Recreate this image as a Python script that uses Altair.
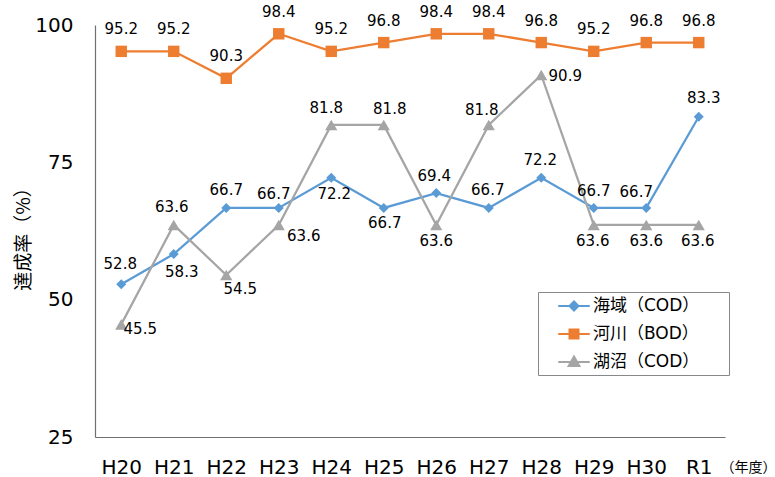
import altair as alt
import pandas as pd

# ---- data ----
years = ["H20", "H21", "H22", "H23", "H24", "H25", "H26", "H27", "H28", "H29", "H30", "R1"]
series_names = ["海域（COD）", "河川（BOD）", "湖沼（COD）"]
sea = [52.8, 58.3, 66.7, 66.7, 72.2, 66.7, 69.4, 66.7, 72.2, 66.7, 66.7, 83.3]
river = [95.2, 95.2, 90.3, 98.4, 95.2, 96.8, 98.4, 98.4, 96.8, 95.2, 96.8, 96.8]
lake = [45.5, 63.6, 54.5, 63.6, 81.8, 81.8, 63.6, 81.8, 90.9, 63.6, 63.6, 63.6]
y_ticks = [25, 50, 75, 100]

# label offsets (pixels) for the value annotations
sea_dx = [-1, 8, 0, -5, 3, 1, -2, -1, -1, 0, -10, 5]
sea_dy = [-20, 18, -18, -14, 16, 15, -17, -18, -18, -17, -16, -19]
river_dx = [0] * 12
river_dy = [-22] * 12
lake_dx = [19, -2, 14, 25, -5, 6, 0, -7, 24, -1, 0, -1]
lake_dy = [5, -18, 14, 11, -17, -16, 16, -15, 1, 16, 16, 16]

colors = ["#5B9BD5", "#ED7D31", "#A5A5A5"]
shapes = ["diamond", "square", "triangle-up"]
sizes = [100, 130, 150]
# legend symbols: a short line with the marker in the middle
legend_paths = [
    "M-1.75,0H1.75M0,-0.5L0.5,0L0,0.5L-0.5,0Z",
    "M-1.75,0H1.75M-0.5,-0.5H0.5V0.5H-0.5Z",
    "M-1.75,0H1.75M0,-0.6L0.6,0.45H-0.6Z",
]

rows = []
for name, vals, dxs, dys in zip(series_names, [sea, river, lake],
                                [sea_dx, river_dx, lake_dx], [sea_dy, river_dy, lake_dy]):
    for yr, v, dx, dy in zip(years, vals, dxs, dys):
        rows.append({"year": yr, "series": name, "value": v, "dx": dx, "dy": dy})
df = pd.DataFrame(rows)

LATIN = "DejaVu Sans, Noto Sans CJK JP"
CJK = "Noto Sans CJK JP"

x_enc = alt.X(
    "year:N", sort=years,
    scale=alt.Scale(type="point", padding=0.5),
    axis=alt.Axis(
        title="（年度）", titleX=625, titleY=30, titleAlign="left", titleBaseline="middle",
        titleFont=CJK, titleFontSize=14, titleFontWeight="normal", titleColor="black",
        labelFont=LATIN, labelFontSize=20, labelColor="black", labelPadding=20,
        labelAngle=0, ticks=False, tickSize=0, domainColor="#707070", domainWidth=1.2,
        grid=False,
    ),
)
y_enc = alt.Y(
    "value:Q",
    scale=alt.Scale(domain=[25, 100], nice=False, zero=False),
    axis=alt.Axis(
        values=y_ticks, title="達成率（%）", titleX=-72, titleY=209,
        titleAlign="center", titleBaseline="middle", titleAngle=-90,
        titleFont=CJK, titleFontSize=19, titleFontWeight="normal", titleColor="black",
        labelFont=LATIN, labelFontSize=20, labelColor="black", labelPadding=22,
        ticks=False, tickSize=0, domainColor="#707070", domainWidth=1.2, grid=False,
    ),
)


def make_legend():
    return alt.Legend(
        title=None, orient="none", legendX=443, legendY=267, direction="vertical",
        strokeColor="#888888", fillColor="white", padding=4,
        labelFont=LATIN, labelFontSize=17, labelColor="black",
        symbolSize=324, symbolOffset=22, rowPadding=9, labelOffset=9,
        symbolStrokeWidth=2, symbolOpacity=1,
        labelExpr="datum.label + '\u2800\u2800'",
    )


base = alt.Chart(df)

line_layers = []
point_layers = []
for name, c, s, sz in zip(series_names, colors, shapes, sizes):
    sub = base.transform_filter(alt.datum.series == name)
    line_layers.append(
        sub.mark_line(strokeWidth=2.25, color=c).encode(x=x_enc, y=y_enc)
    )
    point_layers.append(
        sub.mark_point(filled=True, opacity=1, color=c, shape=s, size=sz)
        .encode(x=x_enc, y=y_enc)
    )

# invisible layer that only supplies the legend
legend_layer = base.mark_point(opacity=0).encode(
    x=x_enc, y=y_enc,
    fill=alt.Fill("series:N", sort=series_names,
                  scale=alt.Scale(domain=series_names, range=colors), legend=make_legend()),
    stroke=alt.Stroke("series:N", sort=series_names,
                      scale=alt.Scale(domain=series_names, range=colors), legend=make_legend()),
    shape=alt.Shape("series:N", sort=series_names,
                    scale=alt.Scale(domain=series_names, range=legend_paths), legend=make_legend()),
)

labels = base.mark_text(
    font=LATIN, fontSize=15, color="black", align="center", baseline="middle",
    dx={"expr": "datum.dx"}, dy={"expr": "datum.dy"},
).encode(x=x_enc, y=y_enc, text=alt.Text("value:Q", format=".1f"))

chart = alt.layer(*line_layers, *point_layers, labels, legend_layer).properties(
    width=630, height=412,
    autosize=alt.AutoSizeParams(type="none"),
    padding={"left": 95, "top": 25, "right": 50, "bottom": 40},
    background="white",
).configure_view(stroke=None)

chart.save("out.html", embed_options={"renderer": "svg", "actions": False})
